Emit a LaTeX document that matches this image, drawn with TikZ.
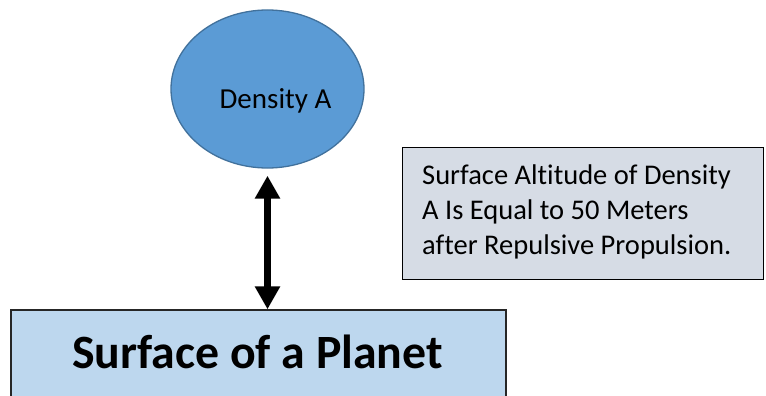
\documentclass[tikz,border=0pt]{standalone}
\usepackage{fontspec}
\setmainfont[Ligatures=NoCommon]{Carlito}
\usetikzlibrary{arrows.meta,shapes.geometric}
\definecolor{ellfill}{HTML}{5B9BD5}
\definecolor{elldraw}{HTML}{41719C}
\definecolor{surffill}{HTML}{BDD7EE}
\definecolor{notefill}{HTML}{D6DCE5}
\tikzset{
  ellbox/.style={ellipse, draw=elldraw, fill=ellfill, line width=1.3pt, minimum width=193pt, minimum height=158pt, inner sep=0pt},
  surfbox/.style={rectangle, draw=black!85, fill=surffill, line width=1.3pt, inner sep=0pt},
  notebox/.style={rectangle, draw=black, fill=notefill, line width=1.3pt, inner sep=0pt},
  dblarrow/.style={line width=7pt, {Triangle[width=24pt,length=23pt]}-{Triangle[width=24pt,length=23pt]}},
}
\begin{document}
\begin{tikzpicture}[x=1pt,y=1pt]
\useasboundingbox (0,0) rectangle (766,-396);
\clip (0,0) rectangle (766,-396);
\node[ellbox] (dens) at (267.5,-89) {};
\node[font=\fontsize{29}{34}\selectfont] (densT) at (275.5,-101) {Density A};
\node[surfbox, minimum width=495pt, minimum height=110pt] (surf) at (258.5,-365) {};
\node[font=\fontsize{47.8}{56}\selectfont\bfseries] (surfT) at (257.5,-352) {Surface of a Planet};
\node[notebox, minimum width=361pt, minimum height=132pt, anchor=north west] (note) at (402,-147) {};
\node[anchor=north west, align=left, font=\fontsize{28.5}{35}\selectfont, inner sep=0pt] (noteT) at (422,-165) {Surface Altitude of Density\\A Is Equal to 50 Meters\\after Repulsive Propulsion.};
\draw[dblarrow] ([yshift=-7pt]dens.south) -- (dens.south |- surf.north);
\end{tikzpicture}
\end{document}
